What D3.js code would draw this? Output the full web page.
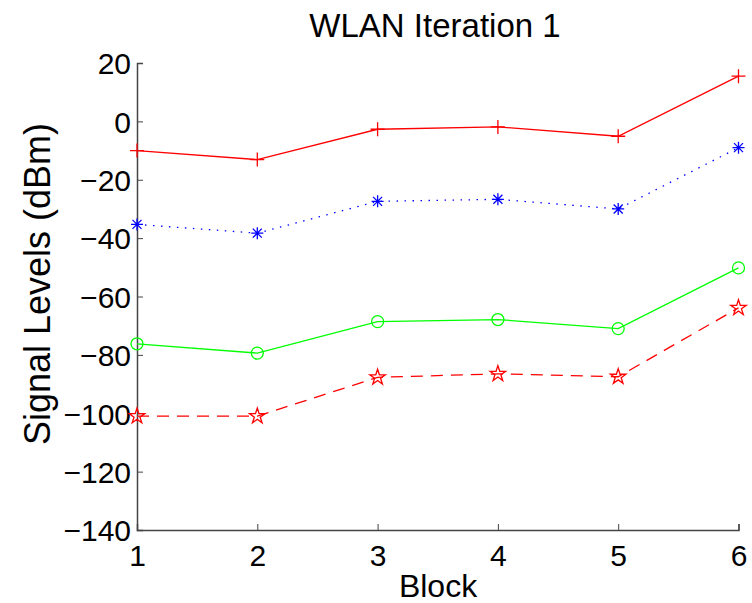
<!DOCTYPE html>
<html>
<head>
<meta charset="utf-8">
<script src="https://cdn.jsdelivr.net/npm/d3@7"></script>
<style>
  body { margin: 0; background: #fff; }
  text { font-family: "Liberation Sans", Arial, sans-serif; fill: #000; }
</style>
</head>
<body>
<svg></svg>
<script>
// data
var blocks = [1, 2, 3, 4, 5, 6];
var redPlus = [-10, -13.1, -2.7, -1.9, -5.1, 15.5];
var blueStar = [-35.3, -38.3, -27.4, -26.7, -30, -9];
var greenCircle = [-76.2, -79.4, -68.6, -67.9, -71, -50.2];
var redPentagram = [-101, -101, -87.7, -86.5, -87.5, -63.9];
var yTicks = [20, 0, -20, -40, -60, -80, -100, -120, -140];

var canvasWidth = 752, canvasHeight = 603;
var margin = { top: 63, right: 14, bottom: 73, left: 137 };
var width = canvasWidth - margin.left - margin.right;
var height = canvasHeight - margin.top - margin.bottom;

var svg = d3.select('svg')
    .attr('width', canvasWidth)
    .attr('height', canvasHeight);
var g = svg.append('g')
    .attr('transform', 'translate(' + margin.left + ',' + margin.top + ')');

var xScale = d3.scaleLinear().domain([1, 6]).range([0, 601.5]);
var yScale = d3.scaleLinear().domain([-140, 20]).range([height, 0]);

function fmt(d) { return d < 0 ? '\u2212' + Math.abs(d) : String(d); }

// axes (MATLAB style, ticks pointing inward, no box)
var xAxis = g.append('g')
    .attr('transform', 'translate(0,' + height + ')')
    .call(d3.axisBottom(xScale).tickValues(blocks).tickSize(-6).tickPadding(15).tickFormat(d3.format('d')));
var yAxis = g.append('g')
    .call(d3.axisLeft(yScale).tickValues(yTicks).tickSize(-6).tickPadding(6).tickFormat(fmt));
[xAxis, yAxis].forEach(function (a) {
    a.select('.domain').attr('stroke', '#444').attr('stroke-width', 1.5);
    a.selectAll('.tick line').attr('stroke', '#444');
    a.selectAll('.tick text').style('font-size', '30px');
});
xAxis.selectAll('.tick text').attr('dy', '0.71em');
yAxis.selectAll('.tick text').attr('dy', '0.36em');

var series = [
    { values: redPlus, color: '#ff0000', dash: null, marker: 'plus' },
    { values: blueStar, color: '#0000ff', dash: '1.5,6.5', marker: 'star' },
    { values: greenCircle, color: '#00ff00', dash: null, marker: 'circle' },
    { values: redPentagram, color: '#ff0000', dash: '12,8', marker: 'pentagram' }
];

var line = d3.line()
    .x(function (d, i) { return xScale(blocks[i]); })
    .y(function (d) { return yScale(d); });

var markerPaths = {
    plus: 'M-7,0H7M0,-7V7',
    star: 'M-6,0H6M0,-6V6M-4.5,-4.5L4.5,4.5M-4.5,4.5L4.5,-4.5',
    circle: null,
    pentagram: d3.symbol().type(d3.symbolStar).size(75)()
};

series.forEach(function (s) {
    g.append('path')
        .datum(s.values)
        .attr('d', line)
        .attr('fill', 'none')
        .attr('stroke', s.color)
        .attr('stroke-width', 1.3)
        .attr('stroke-dasharray', s.dash);

    var m = g.selectAll(null)
        .data(s.values)
        .enter();
    if (s.marker === 'circle') {
        m.append('circle')
            .attr('cx', function (d, i) { return xScale(blocks[i]); })
            .attr('cy', function (d) { return yScale(d); })
            .attr('r', 6)
            .attr('fill', 'none')
            .attr('stroke', s.color)
            .attr('stroke-width', 1.3);
    } else {
        m.append('path')
            .attr('transform', function (d, i) { return 'translate(' + xScale(blocks[i]) + ',' + yScale(d) + ')'; })
            .attr('d', markerPaths[s.marker])
            .attr('fill', 'none')
            .attr('stroke', s.color)
            .attr('stroke-width', 1.3);
    }
});

// labels
svg.append('text')
    .attr('x', 435).attr('y', 37)
    .attr('text-anchor', 'middle')
    .style('font-size', '33px')
    .text('WLAN Iteration 1');
svg.append('text')
    .attr('x', 438).attr('y', 597)
    .attr('text-anchor', 'middle')
    .style('font-size', '32px')
    .text('Block');
svg.append('text')
    .attr('transform', 'translate(50,284) rotate(-90)')
    .attr('text-anchor', 'middle')
    .style('font-size', '36px')
    .text('Signal Levels (dBm)');
</script>
</body>
</html>
